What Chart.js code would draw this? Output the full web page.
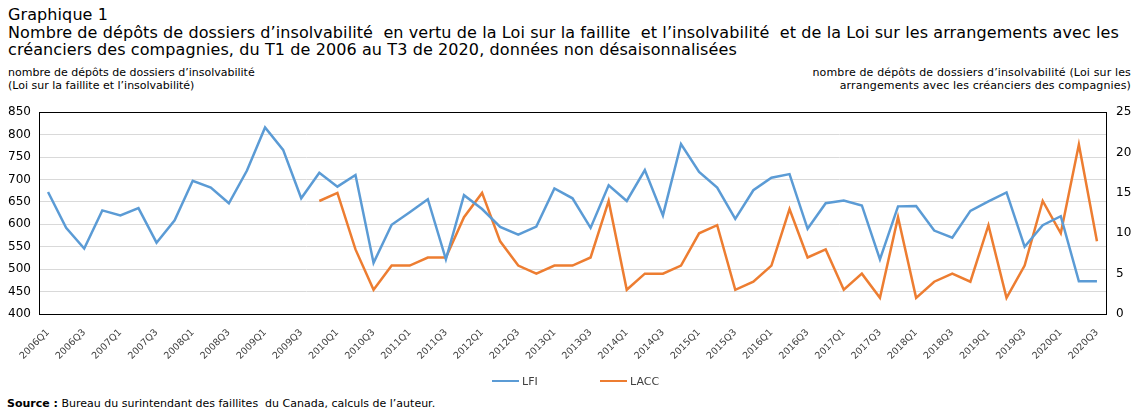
<!DOCTYPE html>
<html>
<head>
<meta charset="utf-8">
<script src="https://cdn.jsdelivr.net/npm/chart.js@4.4.1/dist/chart.umd.min.js"></script>
<style>
  html, body { margin:0; padding:0; background:#fff; }
  body { width:1135px; height:416px; position:relative; overflow:hidden; font-family:"DejaVu Sans", Verdana, sans-serif; color:#000; }
  .t { position:absolute; white-space:pre; }
  #title { left:8px; top:6px; font-size:16px; line-height:17.5px; letter-spacing:0.1px; }
  #ylab { left:8px; top:67px; font-size:11px; line-height:12.5px; }
  #y1lab { right:4px; top:67px; font-size:11px; line-height:12.5px; text-align:right; letter-spacing:0.15px; }
  #wrap { position:absolute; left:0; top:95px; width:1135px; height:300px; }
  #src { left:7px; top:397px; font-size:11px; }
  .lg { position:absolute; top:374px; height:14px; font-size:11px; color:#404040; display:flex; align-items:center; white-space:nowrap; }
  .lg span.bar { display:inline-block; width:27px; height:2.5px; margin-right:3px; }
</style>
</head>
<body>
<div id="title" class="t">Graphique 1
Nombre de dépôts de dossiers d’insolvabilité  en vertu de la Loi sur la faillite  et l’insolvabilité  et de la Loi sur les arrangements avec les
créanciers des compagnies, du T1 de 2006 au T3 de 2020, données non désaisonnalisées</div>
<div id="ylab" class="t">nombre de dépôts de dossiers d’insolvabilité
(Loi sur la faillite et l’insolvabilité)</div>
<div id="y1lab" class="t">nombre de dépôts de dossiers d’insolvabilité (Loi sur les
arrangements avec les créanciers des compagnies)</div>
<div id="wrap"><canvas id="c" width="1135" height="300"></canvas></div>
<div id="src" class="t"><b>Source :</b> Bureau du surintendant des faillites  du Canada, calculs de l’auteur.</div>
<script>
const quarters = [
  "2006Q1","2006Q2","2006Q3","2006Q4","2007Q1","2007Q2","2007Q3","2007Q4",
  "2008Q1","2008Q2","2008Q3","2008Q4","2009Q1","2009Q2","2009Q3","2009Q4",
  "2010Q1","2010Q2","2010Q3","2010Q4","2011Q1","2011Q2","2011Q3","2011Q4",
  "2012Q1","2012Q2","2012Q3","2012Q4","2013Q1","2013Q2","2013Q3","2013Q4",
  "2014Q1","2014Q2","2014Q3","2014Q4","2015Q1","2015Q2","2015Q3","2015Q4",
  "2016Q1","2016Q2","2016Q3","2016Q4","2017Q1","2017Q2","2017Q3","2017Q4",
  "2018Q1","2018Q2","2018Q3","2018Q4","2019Q1","2019Q2","2019Q3","2019Q4",
  "2020Q1","2020Q2","2020Q3"
];
const lfi = [
  672,592,546,631, 620,636,559,609, 697,682,647,720, 816,766,658,715,
  684,710,514,599, 627,656,522,665, 634,594,577,595, 680,658,592,687,
  652,721,620,779, 717,682,612,676, 704,712,590,647, 653,642,522,640,
  641,586,570,630, 651,671,550,598, 618,473,473
];
const lacc = [
  null,null,null,null, null,null,null,null, null,null,null,null, null,null,null,14,
  15,8,3,6, 6,7,7,12, 15,9,6,5, 6,6,7,14,
  3,5,5,6, 10,11,3,4, 6,13,7,8, 3,5,2,12,
  2,4,5,4, 11,2,6,14, 10,21,9
];
const seriesNames = ["LFI", "LACC"];
const seriesColors = ["#5B9BD5", "#ED7D31"];
const leftTicks = { min:400, max:850, step:50 };
const rightTicks = { min:0, max:25, step:5 };

const frame = {
  id:'frame',
  beforeDatasetsDraw(chart){
    const {ctx, chartArea:a} = chart;
    ctx.save();
    ctx.strokeStyle = '#000';
    ctx.lineWidth = 1;
    ctx.strokeRect(Math.round(a.left)+0.5, Math.round(a.top)+0.5, Math.round(a.right-a.left), Math.round(a.bottom-a.top));
    ctx.restore();
  }
};

const chart = new Chart(document.getElementById('c'), {
  type:'line',
  data:{
    labels: quarters,
    datasets:[
      { label:seriesNames[0], data:lfi, yAxisID:'y', borderColor:seriesColors[0], backgroundColor:seriesColors[0], borderWidth:2.5, pointRadius:0, tension:0, spanGaps:false },
      { label:seriesNames[1], data:lacc, yAxisID:'y1', borderColor:seriesColors[1], backgroundColor:seriesColors[1], borderWidth:2.5, pointRadius:0, tension:0, spanGaps:false }
    ]
  },
  options:{
    responsive:false,
    animation:false,
    devicePixelRatio:1,
    layout:{ padding:{ top:14, left:0, right:0, bottom:0 } },
    plugins:{ legend:{ display:false }, tooltip:{ enabled:false } },
    scales:{
      x:{
        offset:true,
        grid:{ display:false, drawTicks:false },
        border:{ display:true, color:'#000', width:1 },
        ticks:{
          autoSkip:false, maxRotation:45, minRotation:45, padding:13,
          color:'#404040', font:{ family:'DejaVu Sans', size:9.5 },
          callback:(v,i)=> i%2===0 ? quarters[i] : ''
        },
        afterFit:(s)=>{ s.height = 81; }
      },
      y:{
        position:'left', min:leftTicks.min, max:leftTicks.max,
        ticks:{ stepSize:leftTicks.step, padding:8, color:'#000', font:{ family:'DejaVu Sans', size:12 } },
        grid:{ color:'#d9d9d9', drawTicks:false, lineWidth:1 },
        border:{ display:true, color:'#000', width:1 },
        afterFit:(s)=>{ s.width = 39; }
      },
      y1:{
        position:'right', min:rightTicks.min, max:rightTicks.max,
        ticks:{ stepSize:rightTicks.step, padding:10, color:'#000', font:{ family:'DejaVu Sans', size:12 } },
        grid:{ drawOnChartArea:false, drawTicks:false },
        border:{ display:true, color:'#000', width:1 },
        afterFit:(s)=>{ s.width = 29; }
      }
    }
  },
  plugins:[frame]
});

// HTML legend built from the chart's datasets
const legendLeft = [492, 600];
chart.data.datasets.forEach((ds, i) => {
  const d = document.createElement('div');
  d.className = 'lg';
  d.style.left = legendLeft[i] + 'px';
  const b = document.createElement('span');
  b.className = 'bar';
  b.style.background = ds.borderColor;
  d.appendChild(b);
  d.appendChild(document.createTextNode(ds.label));
  document.body.appendChild(d);
});
</script>
</body>
</html>
